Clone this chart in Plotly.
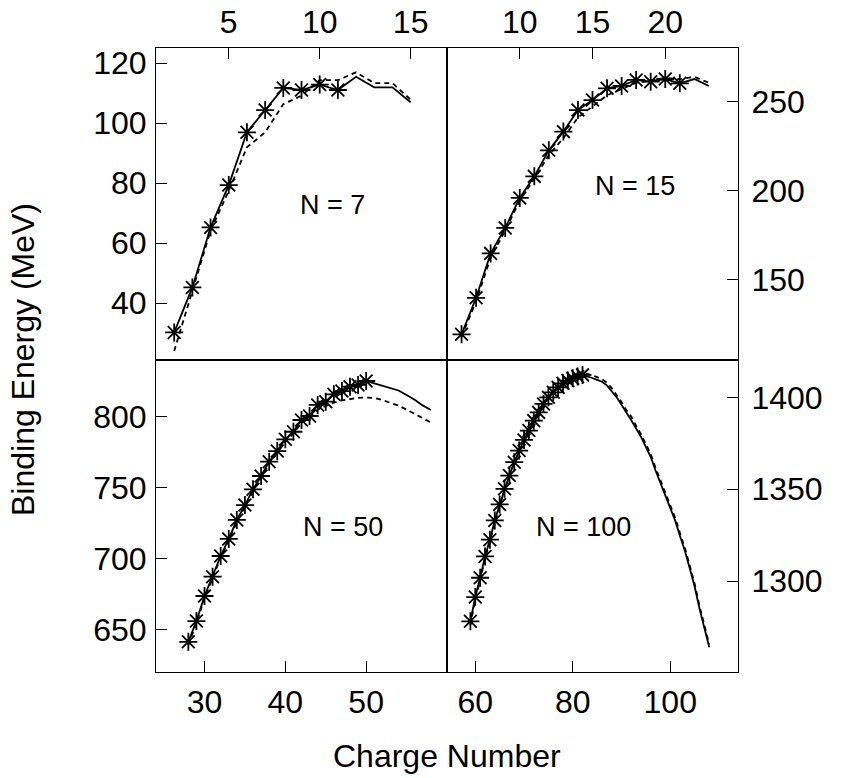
import plotly.graph_objects as go

# ---------------- data ----------------
# N = 7
z7 = [2, 3, 4, 5, 6, 7, 8, 9, 10, 11, 12, 13, 14, 15]
be7_solid = [30.2, 45.2, 65.2, 79.3, 96.9, 104.3, 111.7, 111.0, 112.8, 111.0, 115.4, 111.9, 111.9, 106.9]
be7_dash = [24.0, 44.1, 64.1, 77.4, 91.9, 96.9, 106.3, 109.1, 114.3, 114.3, 116.9, 113.3, 113.3, 107.8]
n_star7 = 10

# N = 15
z15 = [6, 7, 8, 9, 10, 11, 12, 13, 14, 15, 16, 17, 18, 19, 20, 21, 22, 23]
be15_solid = [119.4, 139.9, 164.8, 179.1, 195.9, 208.0, 222.6, 233.1, 245.2, 250.8, 257.4, 258.7,
              262.1, 261.1, 262.6, 260.2, 262.6, 258.7]
be15_dash = [118.0, 138.0, 162.5, 177.5, 194.5, 206.5, 220.0, 229.5, 241.0, 247.0, 253.5, 257.0,
             260.5, 261.8, 263.2, 262.5, 263.8, 260.5]
n_star15 = 16

# N = 50
z50 = list(range(28, 59))
be50_solid = [641.3, 655.9, 673.6, 687.2, 701.8, 713.8, 727.2, 737.7, 748.8, 758.2, 768.3, 775.8,
              784.1, 789.4, 797.7, 800.5, 808.3, 810.6, 815.8, 818.1, 821.2, 822.4, 825.2,
              823.5, 822.0, 820.0, 818.5, 815.3, 812.0, 808.0, 804.7]
be50_dash = [639.0, 654.5, 672.0, 686.0, 700.5, 712.5, 726.0, 736.5, 747.5, 757.0, 767.0, 774.5,
             782.5, 788.0, 796.0, 799.0, 805.0, 807.5, 810.0, 811.5, 812.5, 813.3, 813.5,
             813.3, 811.8, 810.0, 807.8, 805.0, 802.0, 798.8, 796.0]
n_star50 = 23

# N = 100
z100 = list(range(59, 109))
be100_solid = [1278.1, 1291.3, 1301.8, 1313.4, 1322.5, 1333.0, 1341.7, 1350.2, 1357.4, 1364.7,
               1371.0, 1376.8, 1381.9, 1387.3, 1391.8, 1396.4, 1400.0, 1402.7, 1405.4, 1407.6,
               1409.1, 1410.3, 1411.3, 1412.2,
               1411.5, 1410.5, 1409.5, 1408.5, 1406.5, 1403.5, 1400.0, 1396.0, 1392.0, 1387.5,
               1383.0, 1378.5, 1373.0, 1367.5, 1360.0, 1353.0, 1346.5, 1339.0, 1333.0, 1324.5,
               1316.5, 1307.0, 1297.0, 1285.0, 1274.0, 1264.0]
be100_dash = [1276.0, 1290.0, 1300.5, 1312.0, 1321.5, 1332.0, 1341.0, 1349.5, 1357.0, 1364.5,
              1370.5, 1376.5, 1381.8, 1387.0, 1391.8, 1396.5, 1400.2, 1403.0, 1405.8, 1408.0,
              1409.8, 1411.2, 1412.3, 1413.0,
              1412.8, 1412.0, 1411.0, 1409.8, 1408.0, 1405.0, 1401.5, 1397.5, 1393.0, 1389.5,
              1384.5, 1380.0, 1374.5, 1369.0, 1361.5, 1354.5, 1348.0, 1340.5, 1334.5, 1326.0,
              1318.0, 1308.5, 1298.5, 1286.5, 1275.5, 1265.5]
n_star100 = 24

panel_labels = ["N = 7", "N = 15", "N = 50", "N = 100"]

x_ticks = [[5, 10, 15], [10, 15, 20], [30, 40, 50], [60, 80, 100]]
y_ticks = [[40, 60, 80, 100, 120], [150, 200, 250], [650, 700, 750, 800], [1300, 1350, 1400]]

# ---------------- figure ----------------
FONT = "Liberation Sans, Arial, sans-serif"
fig = go.Figure()

panels = [
    (z7, be7_solid, be7_dash, n_star7, "x", "y"),
    (z15, be15_solid, be15_dash, n_star15, "x2", "y2"),
    (z50, be50_solid, be50_dash, n_star50, "x3", "y3"),
    (z100, be100_solid, be100_dash, n_star100, "x4", "y4"),
]

for z, sol, dsh, ns, xa, ya in panels:
    fig.add_trace(go.Scatter(x=z, y=dsh, mode="lines", xaxis=xa, yaxis=ya,
                             line=dict(color="black", width=1.8, dash="5px,4px"),
                             showlegend=False, hoverinfo="skip"))
    fig.add_trace(go.Scatter(x=z, y=sol, mode="lines", xaxis=xa, yaxis=ya,
                             line=dict(color="black", width=1.8),
                             showlegend=False))
    fig.add_trace(go.Scatter(x=z[:ns], y=sol[:ns], mode="markers", xaxis=xa, yaxis=ya,
                             marker=dict(symbol="asterisk-open", size=15, color="black",
                                         line=dict(color="black", width=1.8)),
                             showlegend=False))


def ax(**kw):
    base = dict(showline=True, linecolor="black", linewidth=1, mirror=True,
                ticks="inside", ticklen=11, tickcolor="black", tickwidth=1,
                showgrid=False, zeroline=False, automargin=False,
                tickfont=dict(family=FONT, size=32, color="black"))
    base.update(kw)
    return base


# page body has an 8px margin, so the figure is sized to end at the window edge
fig.update_layout(
    width=843, height=770,
    margin=dict(l=148, r=113, t=40, b=106),
    paper_bgcolor="white", plot_bgcolor="white",
    xaxis=ax(domain=[0, 0.5], anchor="y", side="top", range=[1, 17],
             tickvals=x_ticks[0], ticklabelstandoff=1),
    yaxis=ax(domain=[0.5, 1], anchor="x", side="left", range=[21, 125],
             tickvals=y_ticks[0], ticklabelstandoff=2),
    xaxis2=ax(domain=[0.5, 1], anchor="y2", side="top", range=[5, 25],
              tickvals=x_ticks[1], ticklabelstandoff=1),
    yaxis2=ax(domain=[0.5, 1], anchor="x2", side="right", range=[105, 280],
              tickvals=y_ticks[1], ticklabelstandoff=6),
    xaxis3=ax(domain=[0, 0.5], anchor="y3", side="bottom", range=[24, 60],
              tickvals=x_ticks[2], ticklabelstandoff=2),
    yaxis3=ax(domain=[0, 0.5], anchor="x3", side="left", range=[620, 840],
              tickvals=y_ticks[2], ticklabelstandoff=2),
    xaxis4=ax(domain=[0.5, 1], anchor="y4", side="bottom", range=[54.2, 113.9],
              tickvals=x_ticks[3], ticklabelstandoff=2),
    yaxis4=ax(domain=[0, 0.5], anchor="x4", side="right", range=[1250.5, 1420.3],
              tickvals=y_ticks[3], ticklabelstandoff=6),
)

ann_pos = [(0.304, 0.748), (0.823, 0.779), (0.321, 0.232), (0.734, 0.232)]
for (px, py), txt in zip(ann_pos, panel_labels):
    fig.add_annotation(x=px, y=py, xref="paper", yref="paper", text=txt, showarrow=False,
                       xanchor="center", yanchor="middle",
                       font=dict(family=FONT, size=27, color="black"))

fig.add_annotation(x=0.5, y=-0.134, xref="paper", yref="paper", text="Charge Number",
                   showarrow=False, xanchor="center", yanchor="middle",
                   font=dict(family=FONT, size=32, color="black"))
fig.add_annotation(x=-0.2285, y=0.5, xref="paper", yref="paper", text="Binding Energy (MeV)",
                   showarrow=False, xanchor="center", yanchor="middle", textangle=-90,
                   font=dict(family=FONT, size=32, color="black"))

fig.write_html("out.html")
